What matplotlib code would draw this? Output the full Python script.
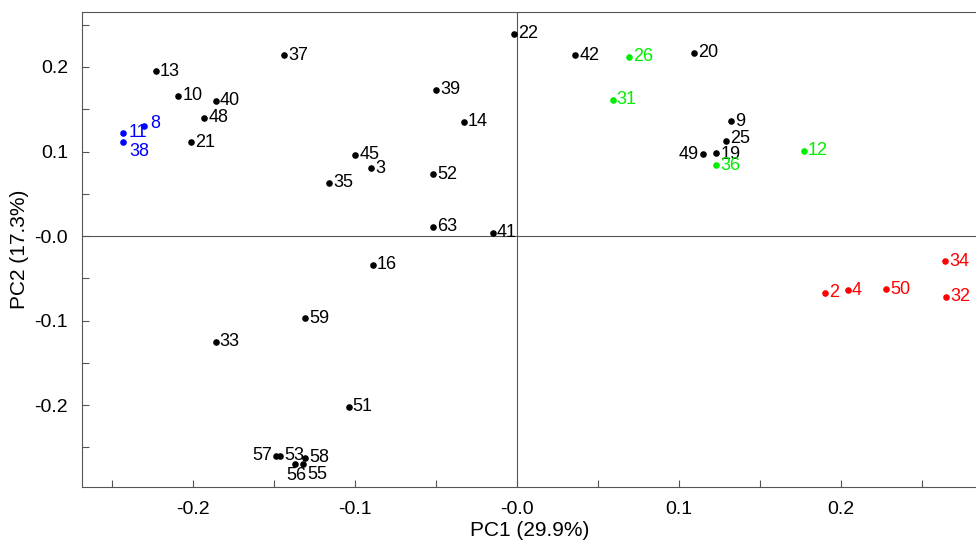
import numpy as np
import matplotlib
matplotlib.use('Agg')
import matplotlib.pyplot as plt
from matplotlib.ticker import MultipleLocator, FuncFormatter

plt.rcParams['font.family'] = ['Liberation Sans', 'DejaVu Sans']

# sample scores (PC1, PC2) by group
black_ids = ['13', '10', '40', '48', '21', '37', '39', '14', '45', '3', '35', '52', '63', '41',
             '22', '42', '20', '9', '25', '19', '49', '16', '59', '33', '51',
             '57', '53', '58', '55', '56']
black_pc1 = [-0.223, -0.209, -0.186, -0.193, -0.201, -0.144, -0.050, -0.033, -0.100, -0.090,
             -0.116, -0.052, -0.052, -0.015, -0.002, 0.036, 0.109, 0.132, 0.129, 0.123,
             0.115, -0.089, -0.131, -0.186, -0.104, -0.149, -0.146, -0.131, -0.132, -0.137]
black_pc2 = [0.195, 0.166, 0.160, 0.140, 0.111, 0.214, 0.173, 0.135, 0.096, 0.080,
             0.063, 0.073, 0.011, 0.004, 0.239, 0.214, 0.217, 0.136, 0.112, 0.098,
             0.097, -0.034, -0.097, -0.125, -0.202, -0.260, -0.260, -0.262, -0.269, -0.270]

blue_ids = ['11', '8', '38']
blue_pc1 = [-0.243, -0.230, -0.243]
blue_pc2 = [0.122, 0.130, 0.111]

green_ids = ['26', '31', '36', '12']
green_pc1 = [0.069, 0.059, 0.123, 0.177]
green_pc2 = [0.212, 0.161, 0.084, 0.101]

red_ids = ['2', '4', '50', '34', '32']
red_pc1 = [0.190, 0.204, 0.228, 0.264, 0.265]
red_pc2 = [-0.067, -0.064, -0.063, -0.030, -0.072]

# label offsets (points) where the default right-hand label would collide
offsets = {'57': (-20, 0), '49': (-21, 0), '56': (-9, -8), '55': (0, -8),
           '38': (1, -7), '11': (1, 0), '8': (1, 2), '25': (0, 2), '19': (0, -1)}

groups = [(black_ids, black_pc1, black_pc2, 'black'),
          (blue_ids, blue_pc1, blue_pc2, '#0000ff'),
          (green_ids, green_pc1, green_pc2, '#00ee00'),
          (red_ids, red_pc1, red_pc2, '#ff0000')]

fig = plt.figure(figsize=(9.76, 5.45), dpi=100)
ax = fig.add_axes([0.084, 0.106, 0.918, 0.872])

ax.axhline(0, color='#555555', lw=0.8, zorder=0)
ax.axvline(0, color='#555555', lw=0.8, zorder=0)

for ids, xs, ys, col in groups:
    ax.scatter(xs, ys, s=14, color=col, zorder=3)
    for lab, x, y in zip(ids, xs, ys):
        dx, dy = offsets.get(lab, (0, 0))
        ax.annotate(lab, (x, y), xytext=(3 + dx, dy), textcoords='offset points',
                    ha='left', va='center', fontsize=13, color=col)

ax.set_xlim(-0.2685, 0.2845)
ax.set_ylim(-0.297, 0.265)

ax.xaxis.set_major_locator(MultipleLocator(0.1))
ax.xaxis.set_minor_locator(MultipleLocator(0.05))
ax.yaxis.set_major_locator(MultipleLocator(0.1))
ax.yaxis.set_minor_locator(MultipleLocator(0.05))
fmt = FuncFormatter(lambda v, p: '-0.0' if abs(v) < 1e-9 else '%.1f' % v)
ax.xaxis.set_major_formatter(fmt)
ax.yaxis.set_major_formatter(fmt)
ax.tick_params(which='both', direction='in', length=5, width=0.8, color='#555555',
               labelsize=14, top=False, right=False)
ax.tick_params(axis='x', pad=10)
ax.tick_params(axis='y', pad=10)

for sp in ax.spines.values():
    sp.set_color('#555555')
    sp.set_linewidth(0.8)

ax.set_xlabel('PC1 (29.9%)', fontsize=15, labelpad=2)
ax.set_ylabel('PC2 (17.3%)', fontsize=15, labelpad=4)

plt.savefig('out.png', dpi=100)
